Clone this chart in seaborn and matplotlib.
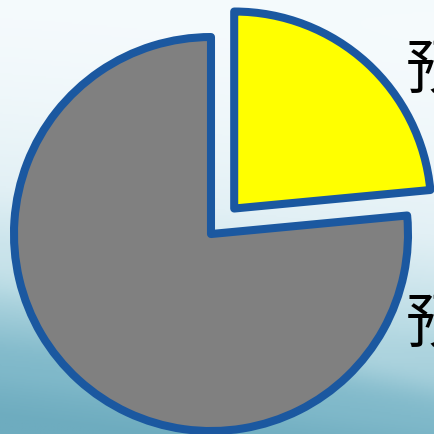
import numpy as np
import matplotlib
matplotlib.use("Agg")
import matplotlib.pyplot as plt
import seaborn as sns
from matplotlib.colors import LinearSegmentedColormap

sns.set_style("white")
plt.rcParams['font.family'] = ['Noto Sans CJK SC', 'DejaVu Sans']

# data
labels = ["预计完成", "预计未完成"]
shares = [23.5, 76.5]
colors = ["#ffff00", "#808080"]
explode = [0.175, 0.0]

fig = plt.figure(figsize=(4.34, 4.35), dpi=100)

# background gradient
bg = fig.add_axes([0, 0, 1, 1])
bg.set_axis_off()
yy, xx = np.mgrid[0:1:300j, 0:1:300j]
grad = np.clip(yy ** 1.8 * 1.05 - xx * 0.22 * yy + 0.02, 0, 1)
# soft diagonal streaks
grad -= 0.06 * np.exp(-((yy - 0.62 - 0.25 * xx) / 0.05) ** 2) * yy
grad -= 0.05 * np.exp(-((yy - 0.86 - 0.12 * xx) / 0.04) ** 2)
cmap = LinearSegmentedColormap.from_list("bg", ["#f6fbfd", "#e2f0f5", "#b9dbe4", "#80b9ca", "#6eacbf"])
bg.imshow(grad, cmap=cmap, aspect="auto", extent=[0, 1, 0, 1], origin="upper", vmin=0, vmax=1)
bg.set_xlim(0, 1)
bg.set_ylim(0, 1)

ax = fig.add_axes([0, 0, 1, 1])
ax.patch.set_alpha(0)
ax.pie(shares, colors=colors, explode=explode, startangle=90, counterclock=False,
       radius=1.0,
       wedgeprops=dict(edgecolor="#1b58a0", linewidth=5.8, joinstyle="round"))
ax.set_xlim(-1.071, 1.132)
ax.set_ylim(-1.015, 1.193)
ax.set_aspect("equal")
ax.set_axis_off()

ax.text(0.99, 0.83, labels[0], fontsize=43, color="black", ha="left", va="center", clip_on=False)
ax.text(0.99, -0.46, labels[1], fontsize=43, color="black", ha="left", va="center", clip_on=False)

fig.savefig("out.png", dpi=100)
